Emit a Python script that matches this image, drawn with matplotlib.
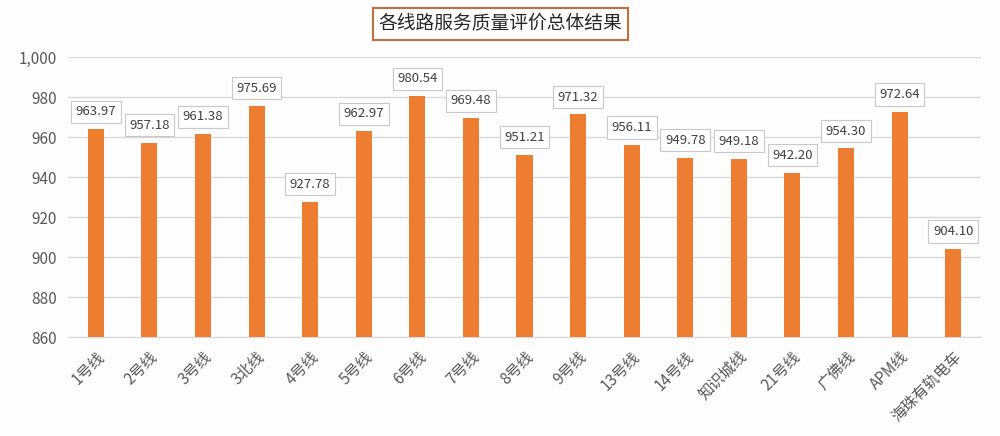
import matplotlib
matplotlib.use("Agg")
import matplotlib.pyplot as plt
import numpy as np

plt.rcParams['font.family'] = ['Noto Sans CJK SC', 'DejaVu Sans']

title = "各线路服务质量评价总体结果"
categories = ["1号线", "2号线", "3号线", "3北线", "4号线", "5号线", "6号线", "7号线",
              "8号线", "9号线", "13号线", "14号线", "知识城线", "21号线", "广佛线",
              "APM线", "海珠有轨电车"]
values = [963.97, 957.18, 961.38, 975.69, 927.78, 962.97, 980.54, 969.48,
          951.21, 971.32, 956.11, 949.78, 949.18, 942.20, 954.30, 972.64, 904.10]
yticks = [860, 880, 900, 920, 940, 960, 980, 1000]
ytick_labels = ["860", "880", "900", "920", "940", "960", "980", "1,000"]

bar_color = "#ED7D31"

fig = plt.figure(figsize=(10, 4.36), dpi=100)
fig.patch.set_facecolor("#fdfdfd")
ax = fig.add_axes([0.068, 0.227, 0.913, 0.642])
ax.set_facecolor("#fdfdfd")

x = np.arange(len(categories))
ax.bar(x, values, width=0.3, color=bar_color, zorder=3)
ax.set_xlim(-0.52, len(categories) - 0.48)
ax.set_ylim(860, 1000)
ax.set_yticks(yticks)
ax.set_yticklabels(ytick_labels, fontsize=11, color="#595959")
ax.set_xticks(x)
ax.set_xticklabels(categories, rotation=45, ha="right", rotation_mode="anchor",
                   fontsize=11, color="#595959")
ax.tick_params(axis="both", length=0, pad=8)
ax.grid(axis="y", color="#d9d9d9", linewidth=1, zorder=0)
for s in ax.spines.values():
    s.set_visible(False)
ax.spines["bottom"].set_visible(True)
ax.spines["bottom"].set_color("#d9d9d9")

for xi, v in zip(x, values):
    ax.annotate(f"{v:.2f}", xy=(xi, v), xytext=(0, 12.5), textcoords="offset points",
                ha="center", va="center", fontsize=9.5, color="#404040", zorder=5,
                bbox=dict(boxstyle="square,pad=0.35", fc="white", ec="#c8c8c8", lw=0.8))

fig.text(0.5, 0.945, title, ha="center", va="center", fontsize=13.5, color="#262626",
         bbox=dict(boxstyle="square,pad=0.3", fc="white", ec="#C0703A", lw=1.5))

fig.savefig("out.png", dpi=100, facecolor=fig.get_facecolor())
